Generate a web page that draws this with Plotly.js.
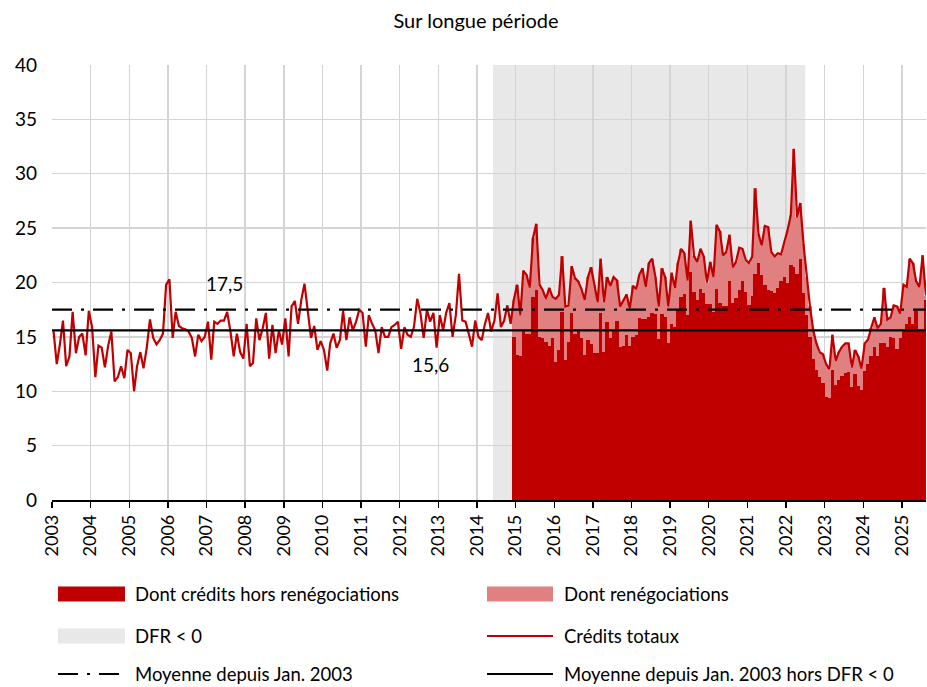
<!DOCTYPE html>
<html>
<head>
<meta charset="utf-8">
<script src="https://cdn.plot.ly/plotly-3.0.1.min.js"></script>
<style>html,body{margin:0;padding:0;background:#fff;}#chart{width:927px;height:687px;}</style>
</head>
<body>
<div id="chart"></div>
<script>
// ---- DATA (monthly, Jan 2003 -> Aug 2025) ----
const firstMonth = [2003, 1];
// Crédits totaux (line)
const totalCredits = [
  // 2003
  15.6, 12.5, 14.2, 16.5, 12.3, 13.2, 17.3, 13.5, 15.0, 15.3, 13.3, 17.4,
  // 2004
  15.9, 11.3, 14.2, 14.0, 12.2, 14.2, 15.5, 10.9, 11.3, 12.3, 11.2, 13.8,
  // 2005
  13.5, 10.0, 12.3, 13.6, 12.1, 14.0, 16.6, 14.9, 14.3, 14.7, 15.3, 19.8,
  // 2006
  20.3, 14.9, 17.3, 16.0, 15.8, 15.7, 15.5, 14.9, 13.2, 15.2, 14.6, 15.0,
  // 2007
  16.4, 12.9, 16.4, 16.2, 16.5, 16.5, 17.3, 15.5, 13.2, 15.3, 13.6, 13.0,
  // 2008
  16.2, 12.3, 12.6, 16.7, 14.7, 15.8, 17.2, 13.0, 16.1, 13.5, 15.6, 14.3,
  // 2009
  16.7, 13.2, 17.8, 18.3, 16.2, 18.4, 19.9, 17.3, 14.9, 16.0, 13.8, 14.6,
  // 2010
  13.8, 11.9, 14.4, 15.3, 14.0, 14.7, 17.4, 14.7, 16.8, 15.6, 16.4, 17.5,
  // 2011
  17.2, 14.1, 17.0, 16.2, 15.6, 13.5, 15.9, 15.0, 15.0, 15.9, 16.1, 16.4,
  // 2012
  13.9, 15.9, 15.2, 15.0, 15.9, 18.5, 17.2, 14.9, 17.5, 16.4, 17.2, 14.0,
  // 2013
  17.0, 15.6, 17.2, 18.1, 15.0, 17.0, 20.8, 16.5, 16.4, 15.3, 14.1, 16.5,
  // 2014
  15.0, 14.7, 16.1, 17.2, 15.5, 16.5, 19.0, 15.9, 16.5, 17.9, 16.2, 18.4,
  // 2015
  19.8, 17.0, 21.1, 20.7, 19.55, 24.1, 25.4, 19.8, 19.3, 18.5, 19.5, 18.7,
  // 2016
  18.5, 18.85, 22.4, 17.8, 17.9, 21.5, 20.4, 20.1, 19.4, 18.4, 20.5, 21.4,
  // 2017
  19.8, 18.2, 22.2, 18.2, 20.5, 19.7, 20.5, 20.2, 17.8, 18.4, 18.9, 17.6,
  // 2018
  19.7, 19.4, 20.7, 21.3, 19.6, 21.8, 22.2, 20.5, 17.8, 21.3, 20.5, 17.8,
  // 2019
  20.9, 19.5, 21.75, 23.1, 22.7, 20.2, 25.7, 22.4, 21.9, 23.1, 22.4, 20.0,
  // 2020
  21.9, 20.5, 25.3, 24.7, 22.5, 22.8, 24.4, 21.4, 21.9, 23.2, 23.1, 22.1,
  // 2021
  21.8, 22.4, 28.65, 24.5, 23.4, 25.2, 25.1, 22.8, 22.4, 22.7, 22.6, 23.7,
  // 2022
  24.8, 26.2, 32.3, 26.0, 27.3, 23.5, 20.5, 17.8, 15.6, 14.4, 13.6, 13.4,
  // 2023
  12.5, 12.0, 15.2, 12.8, 13.6, 14.1, 14.4, 14.4, 12.2, 13.8, 13.2, 12.1,
  // 2024
  14.4, 14.75, 15.8, 16.8, 15.8, 16.2, 19.5, 16.6, 16.8, 17.9, 17.8, 17.15,
  // 2025
  19.8, 19.6, 22.2, 21.75, 20.1, 19.6, 22.5, 18.8
];
// Dont crédits hors renégociations (dark bars), from Dec 2014
const horsReneg = [
  15.0,
  // 2015
  13.3, 13.2, 15.5, 15.3, 15.3, 18.7, 19.3, 15.0, 14.9, 14.5, 14.2, 14.9,
  // 2016
  12.7, 13.8, 17.3, 12.9, 14.5, 17.2, 15.3, 15.6, 14.9, 13.3, 14.7, 14.3,
  // 2017
  13.5, 13.5, 17.2, 13.6, 16.4, 14.9, 15.6, 16.5, 14.1, 14.2, 15.2, 14.2,
  // 2018
  15.0, 15.2, 16.7, 16.6, 16.6, 16.8, 17.2, 17.1, 14.85, 17.1, 16.8, 14.45,
  // 2019
  16.2, 15.9, 17.6, 18.7, 18.9, 17.0, 21.0, 19.1, 18.4, 19.4, 19.0, 18.0,
  // 2020
  18.0, 17.3, 19.4, 18.1, 17.8, 17.8, 20.1, 18.1, 18.6, 19.3, 20.1, 19.1,
  // 2021
  17.9, 18.8, 20.8, 21.75, 20.7, 19.8, 19.3, 19.2, 19.05, 19.45, 20.1, 20.5,
  // 2022
  20.0, 21.6, 21.4, 20.8, 22.2, 19.0, 17.0, 15.0, 13.0, 12.0, 11.3, 10.8,
  // 2023
  9.5, 9.4, 12.0, 10.6, 11.0, 11.4, 11.7, 11.8, 10.4, 11.6, 10.5, 10.1,
  // 2024
  11.9, 12.5, 13.2, 14.1, 13.2, 14.4, 14.4, 14.1, 15.0, 14.9, 13.9, 14.9,
  // 2025
  15.6, 16.2, 16.8, 16.2, 17.4, 15.6, 15.6, 18.4
];
const avgAll = 17.5;      // Moyenne depuis Jan. 2003
const avgExDFR = 15.6;    // Moyenne depuis Jan. 2003 hors DFR < 0
const dfrStart = '2014-06-01';
const dfrEnd = '2022-07-01';
const seriesNames = {
  hors: 'Dont crédits hors renégociations',
  reneg: 'Dont renégociations',
  dfr: 'DFR &lt; 0',
  total: 'Crédits totaux',
  avg: 'Moyenne depuis Jan. 2003',
  avgEx: 'Moyenne depuis Jan. 2003 hors DFR &lt; 0'
};
const chartTitle = 'Sur longue période';

// ---- dates (mid-month) ----
function pad(n){return n<10?'0'+n:''+n;}
const dates = totalCredits.map((_, i) => {
  const m0 = firstMonth[1]-1+i;
  const y = firstMonth[0] + Math.floor(m0/12);
  const m = m0 % 12 + 1;
  return y + '-' + pad(m) + '-15';
});
const barOffset = totalCredits.length - horsReneg.length;
const barDates = dates.slice(barOffset);
const barTotals = totalCredits.slice(barOffset);

// ---- styling ----
const DARK = '#C00000', PINK = '#E08080', RED = '#C00000', GREY = '#E8E8E8';
const FONT = 'Lato, "Open Sans", "Liberation Sans", sans-serif';
const DASHDOT = '20px,9px,3px,9px';
const xStart = '2003-01-01', xEnd = '2025-08-16';
const BARW = 32*24*3600*1000;

const Lm = 52, Rm = 1, Tm = 65, Bm = 187, FW = 927, FH = 687;
const PW = FW - Lm - Rm, PH = FH - Tm - Bm;
const pxX = x => (x - Lm) / PW;
const pxY = y => (Tm + PH - y) / PH;

const traces = [
  { type:'bar', x:barDates, y:barTotals, name:seriesNames.reneg, marker:{color:PINK, line:{width:0}}, width:BARW, showlegend:false, hoverinfo:'skip' },
  { type:'bar', x:barDates, y:horsReneg, name:seriesNames.hors, marker:{color:DARK, line:{width:0}}, width:BARW, showlegend:false, hoverinfo:'skip' },
  { type:'scatter', mode:'lines', x:dates, y:totalCredits, name:seriesNames.total, line:{color:RED, width:2.2}, showlegend:false },
  { type:'scatter', mode:'lines', x:[xStart, xEnd], y:[avgAll, avgAll], name:seriesNames.avg, line:{color:'#000', width:2.2, dash:DASHDOT}, showlegend:false },
  { type:'scatter', mode:'lines', x:[xStart, xEnd], y:[avgExDFR, avgExDFR], name:seriesNames.avgEx, line:{color:'#000', width:2.2}, showlegend:false }
];

const shapes = [
  { type:'rect', xref:'x', yref:'paper', x0:dfrStart, x1:dfrEnd, y0:0, y1:1, fillcolor:GREY, line:{width:0}, layer:'below' }
];
const annotations = [
  { xref:'x', yref:'y', x:'2007-06-20', y:19.95, text:String(avgAll).replace('.', ','), showarrow:false, font:{size:19, color:'#000', family:FONT} },
  { xref:'x', yref:'y', x:'2012-10-20', y:12.5, text:String(avgExDFR).replace('.', ','), showarrow:false, font:{size:19, color:'#000', family:FONT} }
];

// custom legend
const legendItems = [
  { kind:'rect', color:DARK, x0:58, x1:125, yc:594, text:seriesNames.hors, tx:133 },
  { kind:'rect', color:PINK, x0:487, x1:553, yc:594, text:seriesNames.reneg, tx:562 },
  { kind:'rect', color:GREY, x0:58, x1:125, yc:636, text:seriesNames.dfr, tx:133 },
  { kind:'line', color:RED, dash:'solid', x0:487, x1:553, yc:636, text:seriesNames.total, tx:562 },
  { kind:'line', color:'#000', dash:DASHDOT, x0:58, x1:125, yc:674, text:seriesNames.avg, tx:133 },
  { kind:'line', color:'#000', dash:'solid', x0:487, x1:553, yc:674, text:seriesNames.avgEx, tx:562 }
];
legendItems.forEach(it => {
  if (it.kind === 'rect') {
    shapes.push({ type:'rect', xref:'paper', yref:'paper', x0:pxX(it.x0), x1:pxX(it.x1), y0:pxY(it.yc+7.5), y1:pxY(it.yc-7.5), fillcolor:it.color, line:{width:0} });
  } else {
    shapes.push({ type:'line', xref:'paper', yref:'paper', x0:pxX(it.x0), x1:pxX(it.x1), y0:pxY(it.yc), y1:pxY(it.yc), line:{color:it.color, width:2.2, dash:it.dash} });
  }
  annotations.push({ xref:'paper', yref:'paper', x:pxX(it.tx), y:pxY(it.yc), xanchor:'left', yanchor:'middle', text:it.text, showarrow:false, font:{size:18.5, color:'#000', family:FONT} });
});

const layout = {
  width:FW, height:FH,
  margin:{l:Lm, r:Rm, t:Tm, b:Bm, pad:0},
  paper_bgcolor:'#fff', plot_bgcolor:'rgba(0,0,0,0)',
  font:{family:FONT, size:18, color:'#000'},
  title:{ text:chartTitle, font:{size:20, family:FONT, color:'#000'}, xref:'container', yref:'container', x:476/FW, xanchor:'center', y:1-21/FH, yanchor:'middle' },
  barmode:'overlay', bargap:0,
  showlegend:false,
  xaxis:{
    type:'date', range:[xStart, xEnd],
    tick0:'2003-01-01', dtick:'M12', tickformat:'%Y', tickangle:-90,
    showgrid:true, gridcolor:'#D4D4D4', gridwidth:1.3,
    showline:true, linecolor:'#000', linewidth:1.5,
    ticks:'outside', ticklen:6, tickwidth:1.3, tickcolor:'#000',
    tickfont:{size:18, family:FONT, color:'#000'},
    zeroline:false, fixedrange:true
  },
  yaxis:{
    range:[0,40], dtick:5, tick0:0,
    showgrid:true, gridcolor:'#D4D4D4', gridwidth:1.3,
    zeroline:false, showline:false, ticks:'',
    ticklabelstandoff:14,
    tickfont:{size:19, family:FONT, color:'#000'},
    fixedrange:true
  },
  shapes:shapes,
  annotations:annotations
};

Plotly.newPlot('chart', traces, layout, {staticPlot:true, displayModeBar:false});
</script>
</body>
</html>
